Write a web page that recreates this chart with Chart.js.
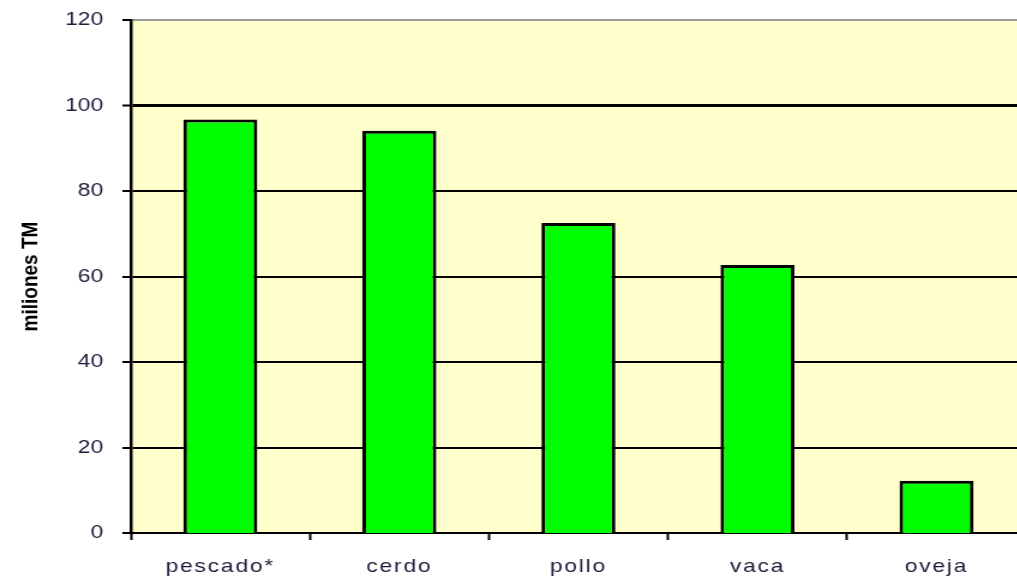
<!DOCTYPE html>
<html>
<head>
<meta charset="utf-8">
<script src="https://cdn.jsdelivr.net/npm/chart.js@4.4.1/dist/chart.umd.min.js"></script>
<style>
  html, body { margin: 0; padding: 0; background: #fff; overflow: hidden; }
  #wrap { width: 860px; height: 577px; transform: scaleX(1.2); transform-origin: 0 0; }
</style>
</head>
<body>
<div id="wrap"><canvas id="chart" width="860" height="577"></canvas></div>
<script>
// --- data ---
const categories = ['pescado*', 'cerdo', 'pollo', 'vaca', 'oveja'];
const values = [96.7, 94.1, 72.5, 62.7, 12.2];
const yTicks = [0, 20, 40, 60, 80, 100, 120];

const LABEL_COLOR = '#1c1c3a';

// fill the plot area pale yellow
const plotBg = {
  id: 'plotBg',
  beforeDraw(chart) {
    const { ctx, chartArea: a } = chart;
    ctx.save();
    ctx.fillStyle = '#ffffcc';
    ctx.fillRect(a.left, a.top, a.right - a.left, a.bottom - a.top);
    ctx.restore();
  },
};

// wider letter spacing on the category labels only
const spacedLabels = {
  id: 'spacedLabels',
  beforeDraw(chart) {
    const s = chart.scales.x;
    if (!s || s._spaced) return;
    const orig = s.drawLabels.bind(s);
    s.drawLabels = function (area) {
      this.ctx.save();
      this.ctx.letterSpacing = '1.5px';
      orig(area);
      this.ctx.restore();
    };
    s._spaced = true;
  },
};

new Chart(document.getElementById('chart'), {
  type: 'bar',
  data: {
    labels: categories,
    datasets: [{
      data: values,
      backgroundColor: '#00ff00',
      borderColor: '#000',
      borderWidth: 3,
      borderSkipped: 'bottom',
      categoryPercentage: 1,
      barPercentage: 0.413,
    }],
  },
  options: {
    responsive: false,
    animation: false,
    layout: { padding: { top: 20, right: 5, left: 0, bottom: 0 } },
    plugins: { legend: { display: false }, tooltip: { enabled: false } },
    scales: {
      x: {
        afterFit: (s) => { s.height = 44; s.paddingLeft = 0; s.paddingRight = 0; },
        grid: {
          offset: true,
          drawOnChartArea: false,
          drawTicks: true,
          tickLength: 7,
          tickColor: '#000',
          tickWidth: 2,
        },
        border: { display: true, color: '#000', width: 2 },
        ticks: {
          color: LABEL_COLOR,
          font: { family: 'Liberation Sans, Arial', size: 19 },
          padding: 15,
        },
      },
      y: {
        min: 0,
        max: 120,
        afterFit: (s) => { s.width = 109; s.paddingTop = 0; s.paddingBottom = 0; },
        afterBuildTicks: (s) => { s.ticks = yTicks.map((v) => ({ value: v })); },
        grid: {
          color: (c) => (c.tick && c.tick.value === 120 ? '#999' : '#000'),
          lineWidth: (c) => {
            const v = c.tick && c.tick.value;
            if (v === 100) return 3;
            if (v === 0) return 0;
            return 2;
          },
          tickColor: '#000',
          tickWidth: 2,
          tickLength: 7,
        },
        border: { display: true, color: '#000', width: 2.5 },
        ticks: {
          color: LABEL_COLOR,
          font: { family: 'Liberation Sans, Arial', size: 19 },
          padding: 16,
        },
        title: {
          display: true,
          text: 'miliones TM',
          color: '#000',
          font: { family: 'Liberation Sans, Arial', size: 19, weight: 'bold' },
          padding: { top: 14, bottom: 0 },
        },
      },
    },
  },
  plugins: [plotBg, spacedLabels],
});
</script>
</body>
</html>
